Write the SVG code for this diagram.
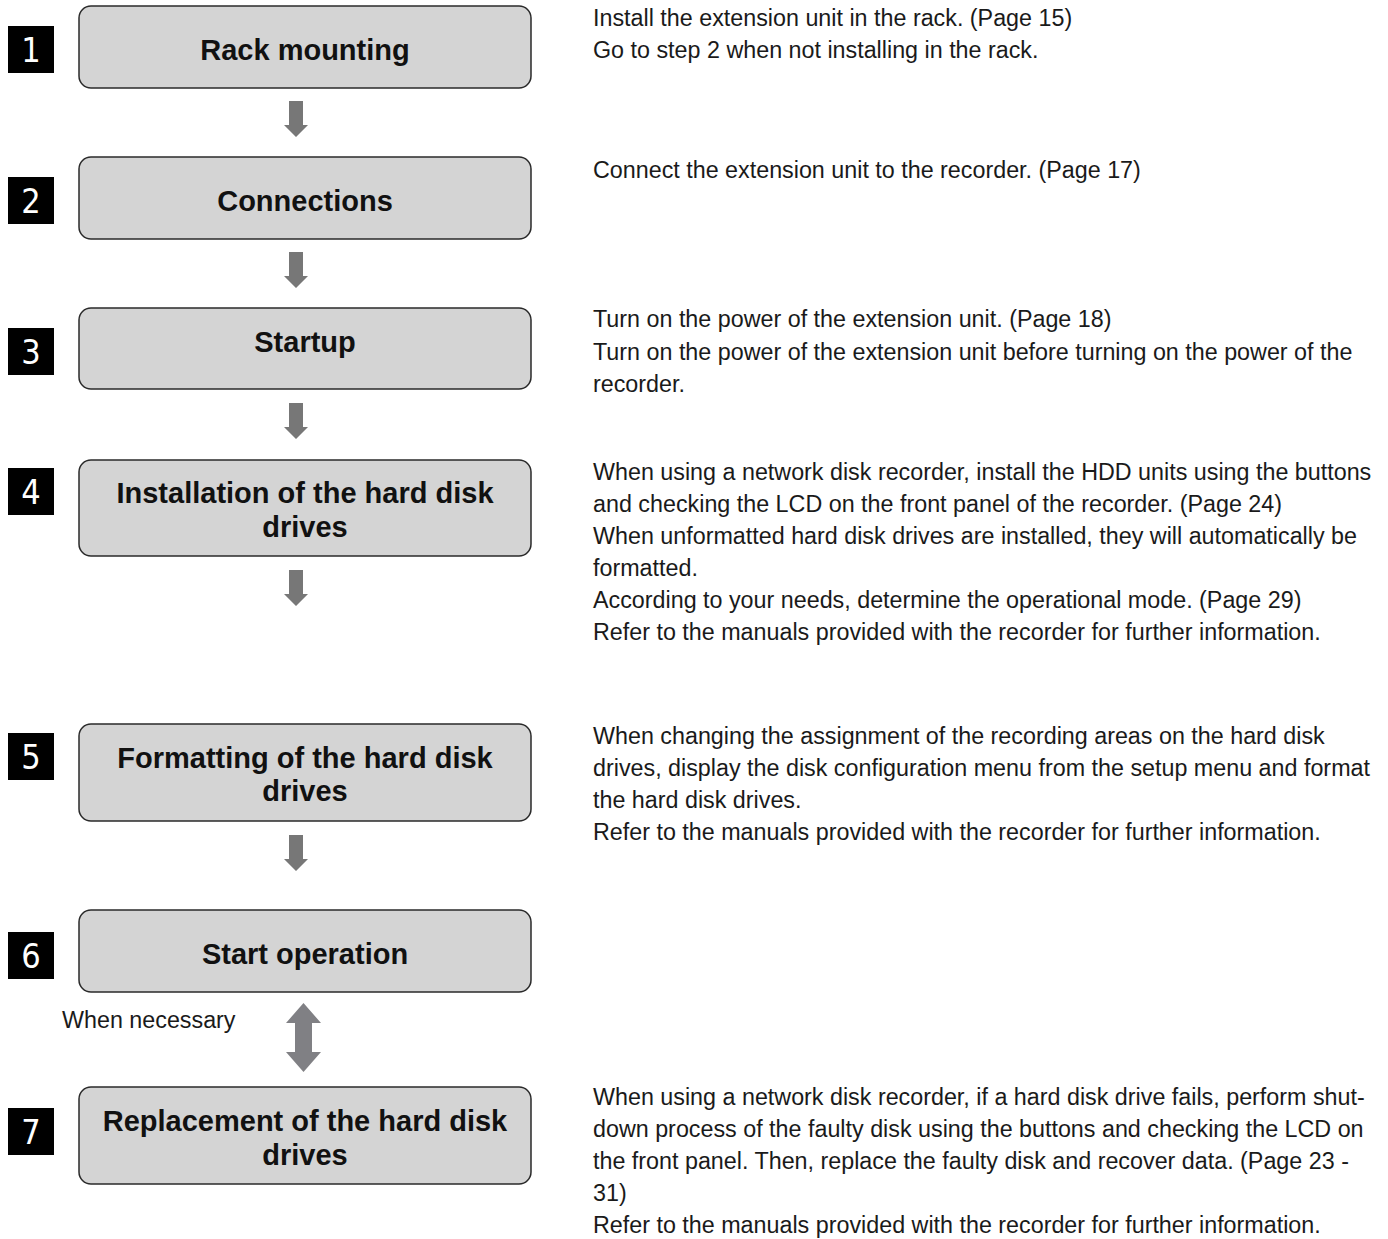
<svg xmlns="http://www.w3.org/2000/svg" width="1388" height="1239" viewBox="0 0 1388 1239">
<style>
.box{fill:#d4d4d4;stroke:#2a2a2a;stroke-width:1.5}
.lbl{font-family:"Liberation Sans",Arial,sans-serif;font-weight:bold;font-size:29px;fill:#111;text-anchor:middle}
.badge{fill:#000}
.num{font-family:"DejaVu Sans Condensed","Liberation Sans",sans-serif;font-size:34px;fill:#fff;text-anchor:middle}
.desc{font-family:"Liberation Sans",Arial,sans-serif;font-size:23.3px;fill:#1a1a1a}
.arr{fill:#777}
.darr{fill:#808084}
</style>
<rect width="1388" height="1239" fill="#fff"/>
<g id="connectors">
<path class="arr" d="M289,101 H303 V125 H308 L296,137 L284,125 H289 Z"/>
<path class="arr" d="M289,252 H303 V276 H308 L296,288 L284,276 H289 Z"/>
<path class="arr" d="M289,403 H303 V427 H308 L296,439 L284,427 H289 Z"/>
<path class="arr" d="M289,570 H303 V594 H308 L296,606 L284,594 H289 Z"/>
<path class="arr" d="M289,835 H303 V859 H308 L296,871 L284,859 H289 Z"/>
<path class="darr" d="M303.5,1003 L321,1023 H312 V1052 H321 L303.5,1072 L286,1052 H295 V1023 H286 Z"/>
</g>
<g id="step1">
<rect class="badge" x="8" y="26" width="46" height="47"/>
<text class="num" x="31" y="62">1</text>
<rect class="box" x="79" y="6" width="452" height="82" rx="12"/>
<text class="lbl" x="305" y="60">Rack mounting</text>
<text class="desc" x="593" y="26">Install the extension unit in the rack. (Page 15)</text>
<text class="desc" x="593" y="58">Go to step 2 when not installing in the rack.</text>
</g>
<g id="step2">
<rect class="badge" x="8" y="177" width="46" height="47"/>
<text class="num" x="31" y="213">2</text>
<rect class="box" x="79" y="157" width="452" height="82" rx="12"/>
<text class="lbl" x="305" y="211">Connections</text>
<text class="desc" x="593" y="178">Connect the extension unit to the recorder. (Page 17)</text>
</g>
<g id="step3">
<rect class="badge" x="8" y="328" width="46" height="47"/>
<text class="num" x="31" y="364">3</text>
<rect class="box" x="79" y="308" width="452" height="81" rx="12"/>
<text class="lbl" x="305" y="352">Startup</text>
<text class="desc" x="593" y="327">Turn on the power of the extension unit. (Page 18)</text>
<text class="desc" x="593" y="360">Turn on the power of the extension unit before turning on the power of the</text>
<text class="desc" x="593" y="392">recorder.</text>
</g>
<g id="step4">
<rect class="badge" x="8" y="468" width="46" height="47"/>
<text class="num" x="31" y="504">4</text>
<rect class="box" x="79" y="460" width="452" height="96" rx="12"/>
<text class="lbl" x="305" y="503">Installation of the hard disk</text>
<text class="lbl" x="305" y="537">drives</text>
<text class="desc" x="593" y="480">When using a network disk recorder, install the HDD units using the buttons</text>
<text class="desc" x="593" y="512">and checking the LCD on the front panel of the recorder. (Page 24)</text>
<text class="desc" x="593" y="544">When unformatted hard disk drives are installed, they will automatically be</text>
<text class="desc" x="593" y="576">formatted.</text>
<text class="desc" x="593" y="608">According to your needs, determine the operational mode. (Page 29)</text>
<text class="desc" x="593" y="640">Refer to the manuals provided with the recorder for further information.</text>
</g>
<g id="step5">
<rect class="badge" x="8" y="733" width="46" height="47"/>
<text class="num" x="31" y="769">5</text>
<rect class="box" x="79" y="724" width="452" height="97" rx="12"/>
<text class="lbl" x="305" y="768">Formatting of the hard disk</text>
<text class="lbl" x="305" y="801">drives</text>
<text class="desc" x="593" y="744">When changing the assignment of the recording areas on the hard disk</text>
<text class="desc" x="593" y="776">drives, display the disk configuration menu from the setup menu and format</text>
<text class="desc" x="593" y="808">the hard disk drives.</text>
<text class="desc" x="593" y="840">Refer to the manuals provided with the recorder for further information.</text>
</g>
<g id="step6">
<rect class="badge" x="8" y="932" width="46" height="47"/>
<text class="num" x="31" y="968">6</text>
<rect class="box" x="79" y="910" width="452" height="82" rx="12"/>
<text class="lbl" x="305" y="964">Start operation</text>
</g>
<text id="when-necessary" class="desc" x="62" y="1028">When necessary</text>
<g id="step7">
<rect class="badge" x="8" y="1108" width="46" height="47"/>
<text class="num" x="31" y="1144">7</text>
<rect class="box" x="79" y="1087" width="452" height="97" rx="12"/>
<text class="lbl" x="305" y="1131">Replacement of the hard disk</text>
<text class="lbl" x="305" y="1165">drives</text>
<text class="desc" x="593" y="1105">When using a network disk recorder, if a hard disk drive fails, perform shut-</text>
<text class="desc" x="593" y="1137">down process of the faulty disk using the buttons and checking the LCD on</text>
<text class="desc" x="593" y="1169">the front panel. Then, replace the faulty disk and recover data. (Page 23 -</text>
<text class="desc" x="593" y="1201">31)</text>
<text class="desc" x="593" y="1233">Refer to the manuals provided with the recorder for further information.</text>
</g>
</svg>
